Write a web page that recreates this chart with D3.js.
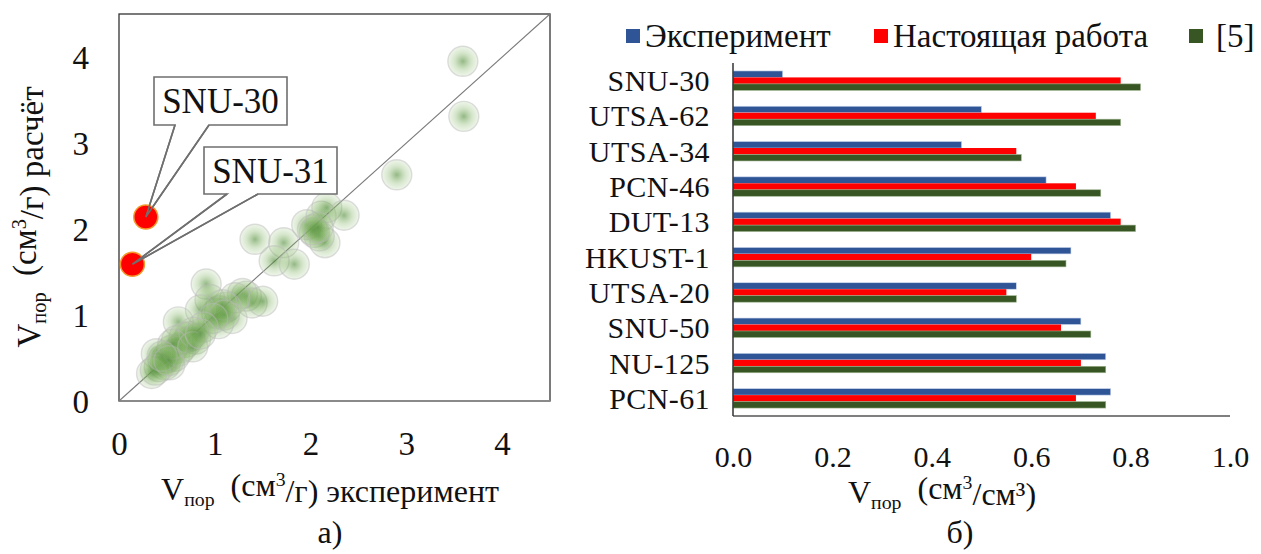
<!DOCTYPE html>
<html>
<head>
<meta charset="utf-8">
<script src="https://cdn.jsdelivr.net/npm/d3@7"></script>
<style>
  html, body { margin: 0; padding: 0; background: #fff; }
  svg { display: block; }
  svg text { font-family: "Liberation Serif", "Times New Roman", Tinos, "DejaVu Serif", serif; }
</style>
</head>
<body>
<svg id="fig" width="1261" height="554"></svg>
<script>
// ---- Panel (a): pore volume, experiment vs calculation (cm3/g) ----
const poreExp = [3.59, 3.60, 2.90,
  1.96, 2.11, 2.17, 2.35, 2.04, 2.15, 2.09, 2.02, 2.08,
  1.42, 1.72, 1.62, 1.83,
  0.91,
  1.29, 1.33, 1.39, 1.50, 1.21, 1.12, 1.18, 1.04, 1.05, 1.02, 0.95, 0.85, 1.08, 1.10, 0.98,
  0.62,
  0.88, 0.74, 0.80, 0.70, 0.65, 0.60, 0.55, 0.58, 0.50, 0.46, 0.48, 0.53, 0.39, 0.42, 0.34,
  0.38, 0.62, 0.68, 0.78, 0.56, 0.45, 0.52, 0.77, 0.85];
const poreCalc = [3.95, 3.31, 2.63,
  2.05, 2.15, 2.25, 2.16, 1.96, 1.84, 1.92, 1.99, 2.02,
  1.88, 1.84, 1.63, 1.59,
  1.36,
  1.25, 1.22, 1.14, 1.16, 1.20, 1.09, 0.96, 0.90, 1.05, 1.02, 1.18, 1.06, 1.12, 1.00, 0.96,
  0.92,
  0.86, 0.75, 0.72, 0.68, 0.62, 0.70, 0.59, 0.52, 0.50, 0.48, 0.42, 0.42, 0.55, 0.40, 0.32,
  0.36, 0.58, 0.74, 0.80, 0.66, 0.52, 0.47, 0.63, 0.78];

const outlierNames = ["SNU-30", "SNU-31"];
const outlierExp = [0.28, 0.14];
const outlierCalc = [2.14, 1.59];

const scatterTicks = [0, 1, 2, 3, 4];

// ---- Panel (б): pore volume per unit volume (cm3/cm3) ----
const frameworks = ["SNU-30", "UTSA-62", "UTSA-34", "PCN-46", "DUT-13",
  "HKUST-1", "UTSA-20", "SNU-50", "NU-125", "PCN-61"];
const experiment = [0.10, 0.50, 0.46, 0.63, 0.76, 0.68, 0.57, 0.70, 0.75, 0.76];
const thisWork   = [0.78, 0.73, 0.57, 0.69, 0.78, 0.60, 0.55, 0.66, 0.70, 0.69];
const ref5       = [0.82, 0.78, 0.58, 0.74, 0.81, 0.67, 0.57, 0.72, 0.75, 0.75];
const seriesNames = ["Эксперимент", "Настоящая работа", "[5]"];
const seriesColors = ["#2f5597", "#ff0000", "#375623"];
const barTicks = [0, 0.2, 0.4, 0.6, 0.8, 1.0];

const svg = d3.select("#fig");

// ================= Panel (a) =================
const box = { left: 119, right: 550, top: 14, bottom: 401 };
const x = d3.scaleLinear().domain([0, 4.5]).range([box.left, box.right]);
const y = d3.scaleLinear().domain([0, 4.5]).range([box.bottom, box.top]);

const defs = svg.append("defs");
const grad = defs.append("radialGradient").attr("id", "softGreen");
grad.append("stop").attr("offset", "0%").attr("stop-color", "#4a8832").attr("stop-opacity", 0.6);
grad.append("stop").attr("offset", "55%").attr("stop-color", "#78ad58").attr("stop-opacity", 0.32);
grad.append("stop").attr("offset", "100%").attr("stop-color", "#a9cc92").attr("stop-opacity", 0.2);

const pa = svg.append("g");

// plot frame
pa.append("rect")
  .attr("x", box.left).attr("y", box.top)
  .attr("width", box.right - box.left).attr("height", box.bottom - box.top)
  .attr("fill", "none").attr("stroke", "#333").attr("stroke-width", 1.3);
pa.append("line")
  .attr("x1", box.left).attr("x2", box.right)
  .attr("y1", box.bottom).attr("y2", box.bottom)
  .attr("stroke", "#8a8a8a").attr("stroke-width", 2.2);

// parity line
pa.append("line")
  .attr("x1", x(0)).attr("y1", y(0)).attr("x2", x(4.5)).attr("y2", y(4.5))
  .attr("stroke", "#7a7a7a").attr("stroke-width", 1.1);

// axes (labels only)
const xAxisA = d3.axisBottom(x).tickValues(scatterTicks).tickSize(0).tickPadding(0).tickFormat(d3.format("d"));
const yAxisA = d3.axisLeft(y).tickValues(scatterTicks).tickSize(0).tickPadding(0).tickFormat(d3.format("d"));
const gxA = pa.append("g").attr("transform", `translate(0,${box.bottom + 42})`).call(xAxisA);
const gyA = pa.append("g").attr("transform", `translate(${box.left - 30},0)`).call(yAxisA);
[gxA, gyA].forEach(g => {
  g.attr("font-family", null);
  g.select(".domain").remove();
  g.selectAll("text").attr("font-size", 33).attr("fill", "#111");
});
gxA.selectAll("text").attr("dy", "0.35em").attr("y", 0);
gyA.selectAll("text").attr("text-anchor", "end").attr("dy", "0.35em");

// data points
pa.append("g").selectAll("circle")
  .data(poreExp.map((v, i) => [v, poreCalc[i]]))
  .join("circle")
  .attr("cx", d => x(d[0])).attr("cy", d => y(d[1])).attr("r", 15)
  .attr("fill", "url(#softGreen)")
  .attr("stroke", "#b8b8b8").attr("stroke-opacity", 0.45).attr("stroke-width", 1.4);

// callouts for the two outliers
const callouts = [
  { box: [154, 77, 133, 48], base: [175, 209] },
  { box: [204, 147, 133, 47], base: [227, 258] }
];
outlierNames.forEach((name, i) => {
  const tipX = x(outlierExp[i]), tipY = y(outlierCalc[i]);
  const [bx, by, bw, bh] = callouts[i].box;
  const [b1, b2] = callouts[i].base;
  const path = `M${bx},${by}H${bx + bw}V${by + bh}H${b2}L${tipX},${tipY}L${b1},${by + bh}H${bx}Z`;
  pa.append("path").attr("d", path)
    .attr("fill", "#fff").attr("stroke", "#6f6f6f").attr("stroke-width", 1.6);
  pa.append("text")
    .attr("x", bx + bw / 2).attr("y", by + bh / 2).attr("dy", "0.35em")
    .attr("text-anchor", "middle").attr("font-size", 35).attr("fill", "#111")
    .text(name);
});
pa.append("g").selectAll("circle")
  .data(outlierExp.map((v, i) => [v, outlierCalc[i]]))
  .join("circle")
  .attr("cx", d => x(d[0])).attr("cy", d => y(d[1])).attr("r", 12)
  .attr("fill", "#ff0000").attr("stroke", "#f39a2a").attr("stroke-width", 1.5);
// pointer tips drawn over the markers
outlierNames.forEach((name, i) => {
  const tipX = x(outlierExp[i]), tipY = y(outlierCalc[i]);
  const [bx, by, bw, bh] = callouts[i].box;
  const [b1, b2] = callouts[i].base;
  pa.append("path")
    .attr("d", `M${b1},${by + bh}L${tipX},${tipY}L${b2},${by + bh}`)
    .attr("fill", "none").attr("stroke", "#6f6f6f").attr("stroke-width", 1.6);
});

// axis titles: V with subscript "пор" and superscript 3
function volTitle(sel, unit, tail) {
  sel.append("tspan").text("V");
  sel.append("tspan").attr("font-size", "0.62em").attr("dy", "0.3em").text("пор");
  sel.append("tspan").attr("dy", "-0.3em").text("\u00a0\u00a0(см");
  sel.append("tspan").attr("font-size", "0.62em").attr("dy", "-0.5em").text("3");
  sel.append("tspan").attr("dy", "0.5em").text(unit + ")" + tail);
}
pa.append("text").attr("x", 330).attr("y", 500).attr("text-anchor", "middle")
  .attr("font-size", 32).attr("fill", "#111")
  .call(volTitle, "/г", " эксперимент");
pa.append("text").attr("transform", "translate(40,217) rotate(-90)").attr("text-anchor", "middle")
  .attr("font-size", 33).attr("fill", "#111")
  .call(volTitle, "/г", " расчёт");
pa.append("text").attr("x", 330).attr("y", 543).attr("text-anchor", "middle")
  .attr("font-size", 32).attr("fill", "#111").text("а)");

// ================= Panel (б) =================
const pb = svg.append("g");
const bx0 = 733, bx1 = 1230, byTop = 63, byBot = 416;
const xb = d3.scaleLinear().domain([0, 1]).range([bx0, bx1]);
const yb = d3.scaleBand().domain(frameworks).range([byTop, byBot]).paddingInner(0.45).paddingOuter(0.225);
const ys = d3.scaleBand().domain(seriesNames).range([0, yb.bandwidth()]);

const seriesValues = [experiment, thisWork, ref5];
seriesNames.forEach((s, k) => {
  pb.append("g").selectAll("rect")
    .data(frameworks.map((f, i) => ({ f, v: seriesValues[k][i] })))
    .join("rect")
    .attr("x", xb(0)).attr("y", d => yb(d.f) + ys(s))
    .attr("width", d => xb(d.v) - xb(0)).attr("height", ys.bandwidth())
    .attr("fill", seriesColors[k])
    .attr("stroke", k === 0 ? "#c9d6ec" : (k === 2 ? "#9fb590" : "none"))
    .attr("stroke-width", 0.6);
});

// axes for panel (б)
pb.append("line").attr("x1", bx0).attr("x2", bx1).attr("y1", byBot).attr("y2", byBot)
  .attr("stroke", "#555").attr("stroke-width", 1.4);
pb.append("line").attr("x1", bx0).attr("x2", bx0).attr("y1", byTop).attr("y2", byBot)
  .attr("stroke", "#333").attr("stroke-width", 1.5);

const gxB = pb.append("g").attr("transform", `translate(0,${byBot + 40})`)
  .call(d3.axisBottom(xb).tickValues(barTicks).tickSize(0).tickPadding(0).tickFormat(d3.format(".1f")));
gxB.attr("font-family", null);
gxB.select(".domain").remove();
gxB.selectAll("text").attr("font-size", 30).attr("fill", "#111")
  .attr("y", 0).attr("dy", "0.35em");

const gyB = pb.append("g").attr("transform", `translate(${bx0 - 23},0)`)
  .call(d3.axisLeft(yb).tickSize(0).tickPadding(0));
gyB.attr("font-family", null);
gyB.select(".domain").remove();
gyB.selectAll("text").attr("font-size", 30).attr("fill", "#111")
  .attr("dy", "0.35em").attr("letter-spacing", "0.4px");

// legend
const legendItems = [
  { sx: 626, tx: 645 },
  { sx: 874, tx: 893 },
  { sx: 1189, tx: 1216 }
];
seriesNames.forEach((s, k) => {
  pb.append("rect").attr("x", legendItems[k].sx).attr("y", 29).attr("width", 14).attr("height", 14)
    .attr("fill", seriesColors[k]);
  pb.append("text").attr("x", legendItems[k].tx).attr("y", 47)
    .attr("font-size", 33).attr("fill", "#111").text(s);
});

pb.append("text").attr("x", 942).attr("y", 503).attr("text-anchor", "middle")
  .attr("font-size", 32).attr("fill", "#111")
  .call(volTitle, "/см³", "");
pb.append("text").attr("x", 960).attr("y", 543).attr("text-anchor", "middle")
  .attr("font-size", 32).attr("fill", "#111").text("б)");
</script>
</body>
</html>
